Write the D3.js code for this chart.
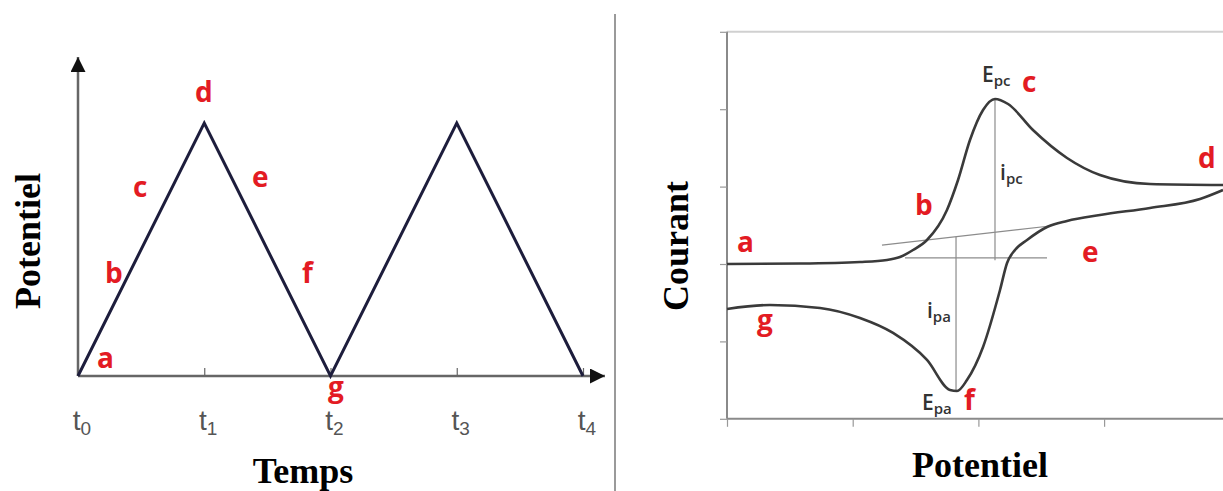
<!DOCTYPE html>
<html>
<head>
<meta charset="utf-8">
<script src="https://cdn.jsdelivr.net/npm/d3@7"></script>
<style>
  body { margin: 0; background: #fff; }
  svg { display: block; }
  .lettre { font-family: "Open Sans", "Liberation Sans", sans-serif; font-weight: 700; font-size: 28px; fill: #e31b23; }
  .titre { font-family: "Liberation Serif", "DejaVu Serif", serif; font-weight: 700; font-size: 36px; fill: #000; }
  .tick-t { font-family: "Liberation Sans", sans-serif; font-size: 28px; fill: #555; }
  .pic { font-family: "Open Sans", "Liberation Sans", sans-serif; font-weight: 600; font-size: 21px; fill: #333; }
</style>
</head>
<body>
<svg width="1223" height="491"></svg>
<script>
// signal triangulaire : temps / potentiel
let temps = [0, 1, 2, 3, 4];
let potentielBalayage = [0, 1, 0, 1, 0];
let tempsLabels = ["0", "1", "2", "3", "4"];

// lettres sur le signal (temps, potentiel)
let lettresGauche = [
  {k: "a", t: 0.15, v: 0.032},
  {k: "b", t: 0.214, v: 0.368},
  {k: "c", t: 0.436, v: 0.708},
  {k: "d", t: 0.927, v: 1.083},
  {k: "e", t: 1.378, v: 0.747},
  {k: "f", t: 1.774, v: 0.368},
  {k: "g", t: 1.98, v: -0.083}
];

// voltampérogramme : balayage aller (E, i)
let allerE = [0, 0.581, 1.058, 1.273, 1.376, 1.48, 1.591, 1.75, 1.838, 1.933, 2.037, 2.132, 2.236, 2.434, 2.705, 2.967, 3.365, 3.946];
let allerI = [0, 0.006, 0.026, 0.052, 0.09, 0.181, 0.31, 0.698, 1.085, 1.602, 1.99, 2.132, 2.067, 1.731, 1.37, 1.15, 1.034, 1.021];
// balayage retour
let retourE = [3.946, 3.763, 3.365, 2.967, 2.705, 2.546, 2.387, 2.291, 2.228, 2.172, 2.037, 1.909, 1.83, 1.774, 1.591, 1.321, 1.058, 0.74, 0.342, 0];
let retourI = [0.956, 0.84, 0.724, 0.633, 0.556, 0.478, 0.31, 0.181, 0.013, -0.336, -1.072, -1.499, -1.641, -1.628, -1.24, -0.891, -0.698, -0.568, -0.53, -0.581];

let ticksE = [0, 1, 2, 3, 4];
let ticksI = [-2, -1, 0, 1, 2, 3];

// lignes de base et hauteurs de pic
let baseOblique = [[1.233, 0.245], [2.57, 0.491]];
let baseHoriz = [[1.416, 0.078], [2.546, 0.078]];
let hauteurIpc = [[2.132, 2.132], [2.132, 0.05]];
let hauteurIpa = [[1.822, 0.35], [1.822, -1.641]];

let lettresDroite = [
  {k: "a", e: 0.08, i: 0.155},
  {k: "b", e: 1.496, i: 0.633},
  {k: "c", e: 2.347, i: 2.222},
  {k: "d", e: 3.747, i: 1.24},
  {k: "e", e: 2.824, i: 0.026},
  {k: "f", e: 1.885, i: -1.886},
  {k: "g", e: 0.239, i: -0.853}
];
let picLabels = [
  {m: "E", s: "pc", e: 2.029, i: 2.351},
  {m: "i", s: "pc", e: 2.172, i: 1.085},
  {m: "i", s: "pa", e: 1.591, i: -0.698},
  {m: "E", s: "pa", e: 1.551, i: -1.886}
];

let svg = d3.select("svg");

let defs = svg.append("defs");
defs.append("marker")
  .attr("id", "fleche")
  .attr("viewBox", "0 0 10 10")
  .attr("refX", 10).attr("refY", 5)
  .attr("markerUnits", "userSpaceOnUse")
  .attr("markerWidth", 20).attr("markerHeight", 15)
  .attr("orient", "auto")
  .append("path")
  .attr("d", "M0,0 L10,5 L0,10 Z")
  .attr("fill", "#111");

// ---------- gauche ----------
let xT = d3.scaleLinear().domain([0, 4]).range([78, 583]);
let yV = d3.scaleLinear().domain([0, 1]).range([376, 123]);

let gauche = svg.append("g");

// axe x avec petits traits vers le haut
gauche.append("g")
  .attr("transform", "translate(0," + yV(0) + ")")
  .call(d3.axisBottom(xT).tickValues(temps).tickSize(-8).tickFormat(""))
  .call(g => g.select(".domain").remove())
  .call(g => g.selectAll(".tick line").attr("stroke", "#666").attr("stroke-width", 1.2));

gauche.append("line")
  .attr("x1", xT(0)).attr("y1", yV(0))
  .attr("x2", 605).attr("y2", yV(0))
  .attr("stroke", "#666").attr("stroke-width", 2.5)
  .attr("marker-end", "url(#fleche)");
gauche.append("line")
  .attr("x1", xT(0)).attr("y1", yV(0))
  .attr("x2", xT(0)).attr("y2", 57)
  .attr("stroke", "#666").attr("stroke-width", 2.5)
  .attr("marker-end", "url(#fleche)");

let ligneT = d3.line().x((d, i) => xT(temps[i])).y(d => yV(d));
gauche.append("path")
  .datum(potentielBalayage)
  .attr("d", ligneT)
  .attr("fill", "none")
  .attr("stroke", "#1d1d3c")
  .attr("stroke-width", 3)
  .attr("stroke-linejoin", "miter");

let tl = gauche.selectAll(".tl").data(temps).enter()
  .append("text")
  .attr("class", "tick-t")
  .attr("text-anchor", "middle")
  .attr("x", d => xT(d) + 4)
  .attr("y", 430);
tl.append("tspan").text("t");
tl.append("tspan").attr("font-size", 19).attr("dy", 5).text((d, i) => tempsLabels[i]);

gauche.selectAll(".lg").data(lettresGauche).enter()
  .append("text")
  .attr("class", "lettre")
  .attr("x", d => xT(d.t))
  .attr("y", d => yV(d.v))
  .text(d => d.k);

gauche.append("text")
  .attr("class", "titre")
  .attr("text-anchor", "middle")
  .attr("x", 303).attr("y", 483)
  .text("Temps");
gauche.append("text")
  .attr("class", "titre")
  .attr("text-anchor", "middle")
  .attr("transform", "translate(40,241) rotate(-90)")
  .text("Potentiel");

// séparation
svg.append("line")
  .attr("x1", 615).attr("x2", 615)
  .attr("y1", 14).attr("y2", 491)
  .attr("stroke", "#9a9a9a").attr("stroke-width", 2);

// ---------- droite ----------
let xE = d3.scaleLinear().domain([0, 1]).range([727, 852.7]);
let yI = d3.scaleLinear().domain([0, 1]).range([264, 186.6]);

let droite = svg.append("g");

droite.append("line")
  .attr("x1", xE(0)).attr("x2", 1223)
  .attr("y1", yI(3)).attr("y2", yI(3))
  .attr("stroke", "#d0d0d0").attr("stroke-width", 2);

droite.append("g")
  .attr("transform", "translate(0," + yI(-2) + ")")
  .call(d3.axisBottom(xE).tickValues(ticksE).tickSize(8).tickFormat("").tickSizeOuter(0))
  .call(g => g.select(".domain").attr("stroke", "#8a8a8a").attr("stroke-width", 2)
    .attr("d", "M" + xE(0) + ",0H1223"))
  .call(g => g.selectAll(".tick line").attr("stroke", "#999").attr("stroke-width", 1.2));

droite.append("g")
  .attr("transform", "translate(" + xE(0) + ",0)")
  .call(d3.axisLeft(yI).tickValues(ticksI).tickSize(7).tickFormat("").tickSizeOuter(0))
  .call(g => g.select(".domain").attr("stroke", "#8a8a8a").attr("stroke-width", 2)
    .attr("d", "M0," + yI(3) + "V" + yI(-2)))
  .call(g => g.selectAll(".tick line").attr("stroke", "#999").attr("stroke-width", 1.2));

let fin = d3.line().x(d => xE(d[0])).y(d => yI(d[1]));
[baseOblique, baseHoriz, hauteurIpc, hauteurIpa].forEach(seg => {
  droite.append("path")
    .attr("d", fin(seg))
    .attr("stroke", "#8c8c8c").attr("stroke-width", 1.2).attr("fill", "none");
});

let courbe = d3.line()
  .x(d => xE(d[0])).y(d => yI(d[1]))
  .curve(d3.curveMonotoneX);

droite.append("path")
  .datum(allerE.map((e, i) => [e, allerI[i]]))
  .attr("d", courbe)
  .attr("fill", "none").attr("stroke", "#3a3a3a").attr("stroke-width", 2.6);
droite.append("path")
  .datum(retourE.map((e, i) => [e, retourI[i]]).reverse())
  .attr("d", courbe)
  .attr("fill", "none").attr("stroke", "#3a3a3a").attr("stroke-width", 2.6);

droite.selectAll(".ld").data(lettresDroite).enter()
  .append("text")
  .attr("class", "lettre")
  .attr("x", d => xE(d.e))
  .attr("y", d => yI(d.i))
  .text(d => d.k);

let pl = droite.selectAll(".pl").data(picLabels).enter()
  .append("text")
  .attr("class", "pic")
  .attr("x", d => xE(d.e))
  .attr("y", d => yI(d.i));
pl.append("tspan").text(d => d.m);
pl.append("tspan").attr("font-size", 15).attr("dy", 4).text(d => d.s);

droite.append("text")
  .attr("class", "titre")
  .attr("text-anchor", "middle")
  .attr("x", 980).attr("y", 477)
  .text("Potentiel");
droite.append("text")
  .attr("class", "titre")
  .attr("text-anchor", "middle")
  .attr("transform", "translate(688,246) rotate(-90)")
  .text("Courant");
</script>
</body>
</html>
